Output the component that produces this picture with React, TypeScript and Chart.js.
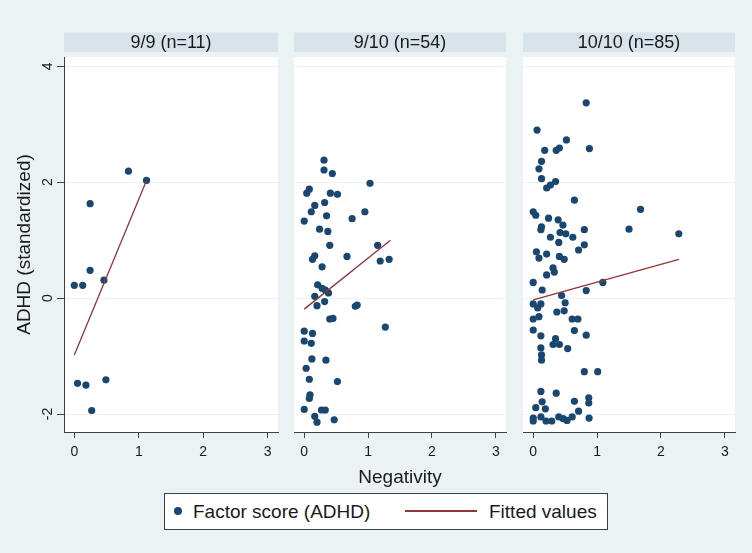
import React, { useEffect, useRef } from "react";
import { Chart, registerables } from "chart.js";
Chart.register(...registerables);

const FONT = "'Liberation Sans', Arial, Helvetica, sans-serif";
const BG = "#eaf2f3";
const STRIP = "#d8e4ea";
const NAVY = "#1a476f";
const MAROON = "#90353b";
const AXIS = "#404040";
const TEXT = "#1a1a1a";

const panelTitles = ["9/9 (n=11)", "9/10 (n=54)", "10/10 (n=85)"];
const xTicks = [0, 1, 2, 3];
const yTicks = [-2, 0, 2, 4];
const xTitle = "Negativity";
const yTitle = "ADHD (standardized)";
const legendLabels = ["Factor score (ADHD)", "Fitted values"];

// Panel 1: 9/9
const p1X = [0.84, 1.12, 0.245, 0.245, 0.0, 0.13, 0.46, 0.05, 0.18, 0.49, 0.27];
const p1Y = [2.19, 2.03, 1.63, 0.48, 0.22, 0.22, 0.31, -1.47, -1.5, -1.41, -1.94];
const fit1X = [0, 1.12];
const fit1Y = [-0.98, 2.03];

// Panel 2: 9/10
const p2X = [
  0.31, 0.31, 0.44, 1.03, 0.08, 0.04, 0.41, 0.52, 0.32, 0.165,
  0.11, 0.95, 0.35, 0.0, 0.75, 0.24, 0.37, 0.4, 1.15, 0.165,
  0.13, 0.67, 1.19, 1.33, 0.28, 0.21, 0.28, 0.33, 0.38, 0.165,
  0.32, 0.2, 0.8, 0.83, 0.4, 0.45, 1.27, 0.0, 0.13, 0.0,
  0.11, 0.12, 0.34, 0.03, 0.08, 0.52, 0.09, 0.08, 0.0, 0.27,
  0.33, 0.165, 0.2, 0.47,
];
const p2Y = [
  2.38, 2.21, 2.15, 1.98, 1.88, 1.81, 1.81, 1.79, 1.65, 1.6,
  1.49, 1.49, 1.42, 1.33, 1.37, 1.19, 1.15, 0.91, 0.91, 0.73,
  0.67, 0.72, 0.64, 0.67, 0.54, 0.23, 0.17, 0.14, 0.09, 0.03,
  -0.06, -0.13, -0.14, -0.12, -0.36, -0.35, -0.5, -0.57, -0.61, -0.74,
  -0.78, -1.05, -1.07, -1.21, -1.4, -1.44, -1.67, -1.73, -1.92, -1.93,
  -1.93, -2.04, -2.14, -2.1,
];
const fit2X = [0, 1.35];
const fit2Y = [-0.19, 1.0];

// Panel 3: 10/10
const p3X = [
  0.83, 0.06, 0.52, 0.18, 0.36, 0.41, 0.88, 0.13, 0.09, 0.13,
  0.21, 0.27, 0.35, 0.645, 1.68, 0.0, 0.04, 0.24, 0.39, 0.465,
  0.13, 0.12, 1.5, 0.8, 2.28, 0.42, 0.51, 0.27, 0.62, 0.4,
  0.8, 0.71, 0.05, 0.09, 0.21, 0.41, 0.485, 0.31, 0.33, 0.21,
  0.0, 1.09, 0.14, 0.83, 0.445, 0.5, 0.0, 0.12, 0.07, 0.09,
  0.0, 0.37, 0.485, 0.61, 0.7, 0.0, 0.645, 0.12, 0.83, 0.35,
  0.31, 0.41, 0.54, 0.12, 0.13, 0.13, 0.8, 1.01, 0.12, 0.36,
  0.14, 0.645, 0.87, 0.87, 0.04, 0.19, 0.71, 0.0, 0.0, 0.12,
  0.2, 0.29, 0.4, 0.47, 0.53, 0.61, 0.875,
];
const p3Y = [
  3.37, 2.9, 2.73, 2.55, 2.55, 2.59, 2.58, 2.36, 2.23, 2.06,
  1.9, 1.95, 2.01, 1.69, 1.53, 1.49, 1.43, 1.38, 1.35, 1.26,
  1.23, 1.18, 1.19, 1.18, 1.11, 1.13, 1.11, 1.05, 1.05, 0.96,
  0.92, 0.83, 0.8, 0.69, 0.76, 0.72, 0.67, 0.52, 0.45, 0.4,
  0.27, 0.27, 0.14, 0.13, 0.045, -0.08, -0.1, -0.1, -0.17, -0.32,
  -0.36, -0.24, -0.22, -0.36, -0.36, -0.55, -0.56, -0.65, -0.64, -0.7,
  -0.8, -0.8, -0.87, -0.86, -0.98, -1.07, -1.27, -1.27, -1.61, -1.64,
  -1.79, -1.78, -1.72, -1.81, -1.89, -1.91, -1.95, -2.07, -2.12, -2.05,
  -2.12, -2.12, -2.05, -2.08, -2.11, -2.05, -2.07,
];
const fit3X = [0, 2.28];
const fit3Y = [-0.03, 0.67];

const panels = [
  { title: panelTitles[0], xs: p1X, ys: p1Y, fx: fit1X, fy: fit1Y },
  { title: panelTitles[1], xs: p2X, ys: p2Y, fx: fit2X, fy: fit2Y },
  { title: panelTitles[2], xs: p3X, ys: p3Y, fx: fit3X, fy: fit3Y },
];

// layout (pixels)
const CANVAS_H = 553;
const layouts = [
  { left: 0, width: 282, padL: 0, padR: 2, yW: 64, first: true },
  { left: 290, width: 220, padL: 2, padR: 2, yW: 0, first: false },
  { left: 519, width: 220, padL: 2, padR: 2, yW: 0, first: false },
];

const decorPlugin = {
  id: "panelDecor",
  beforeDraw(chart: any, _args: any, opts: any) {
    const { ctx, chartArea: a } = chart;
    ctx.save();
    ctx.fillStyle = "#ffffff";
    ctx.fillRect(a.left, a.top, a.right - a.left, a.bottom - a.top);
    ctx.fillStyle = STRIP;
    ctx.fillRect(a.left, a.top - 24.5, a.right - a.left, 19.5);
    ctx.fillStyle = TEXT;
    ctx.font = `18px ${FONT}`;
    ctx.textAlign = "center";
    ctx.textBaseline = "middle";
    ctx.fillText(opts.title, (a.left + a.right) / 2, a.top - 14.3);
    ctx.restore();
  },
};

function Panel({ idx }: { idx: number }) {
  const ref = useRef<HTMLCanvasElement | null>(null);
  const p = panels[idx];
  const L = layouts[idx];
  useEffect(() => {
    if (!ref.current) return;
    Chart.defaults.font.family = FONT;
    const chart = new Chart(ref.current, {
      type: "scatter",
      data: {
        datasets: [
          {
            type: "line",
            label: legendLabels[1],
            data: p.fx.map((x, i) => ({ x, y: p.fy[i] })),
            borderColor: MAROON,
            borderWidth: 1.3,
            pointRadius: 0,
            fill: false,
            order: 0,
          } as any,
          {
            type: "scatter",
            label: legendLabels[0],
            data: p.xs.map((x, i) => ({ x, y: p.ys[i] })),
            backgroundColor: NAVY,
            borderColor: NAVY,
            borderWidth: 0,
            pointRadius: 3.6,
            order: 1,
          },
        ],
      },
      plugins: [decorPlugin],
      options: {
        animation: false,
        responsive: false,
        maintainAspectRatio: false,
        events: [],
        layout: { padding: { left: L.padL, right: L.padR, top: 57, bottom: 62 } },
        plugins: {
          legend: { display: false },
          tooltip: { enabled: false },
          panelDecor: { title: p.title },
        } as any,
        scales: {
          x: {
            type: "linear",
            min: -0.16,
            max: 3.16,
            afterBuildTicks: (s: any) => {
              s.ticks = xTicks.map((v) => ({ value: v }));
            },
            afterFit: (s: any) => {
              s.height = 59;
            },
            ticks: {
              font: { size: 14 },
              color: TEXT,
              padding: 6,
              maxRotation: 0,
              autoSkip: false,
            },
            grid: {
              display: true,
              drawOnChartArea: false,
              drawTicks: true,
              tickLength: 6,
              tickColor: AXIS,
            },
            border: { display: true, color: AXIS, width: 1 },
            title: {
              display: idx === 1,
              text: xTitle,
              font: { size: 19 },
              color: TEXT,
              padding: { top: 0, bottom: 2 },
            },
          },
          y: {
            type: "linear",
            min: -2.31,
            max: 4.16,
            afterBuildTicks: (s: any) => {
              s.ticks = yTicks.map((v) => ({ value: v }));
            },
            afterFit: (s: any) => {
              s.width = L.yW;
            },
            ticks: {
              display: L.first,
              font: { size: 14 },
              color: TEXT,
              padding: 3,
              minRotation: 90,
              maxRotation: 90,
              crossAlign: "center",
              autoSkip: false,
            },
            grid: {
              display: true,
              drawOnChartArea: true,
              color: BG,
              lineWidth: 1,
              drawTicks: L.first,
              tickLength: L.first ? 7 : 0,
              tickColor: AXIS,
            },
            border: { display: L.first, color: AXIS, width: 1 },
            title: {
              display: L.first,
              text: yTitle,
              font: { size: 19 },
              color: TEXT,
              padding: { top: 13, bottom: 0 },
            },
          },
        },
      } as any,
    });
    return () => chart.destroy();
  }, []);
  return (
    <canvas
      ref={ref}
      width={L.width}
      height={CANVAS_H}
      style={{ position: "absolute", left: L.left, top: 0, width: L.width, height: CANVAS_H }}
    />
  );
}

export default function App() {
  return (
    <div
      style={{
        position: "absolute",
        left: 0,
        top: 0,
        width: 752,
        height: 553,
        background: BG,
        overflow: "hidden",
        fontFamily: FONT,
      }}
    >
      <Panel idx={0} />
      <Panel idx={1} />
      <Panel idx={2} />
      <div
        style={{
          position: "absolute",
          left: 164,
          top: 493,
          width: 444,
          height: 37,
          boxSizing: "border-box",
          border: `1px solid ${AXIS}`,
          background: "#ffffff",
          fontSize: 19,
          color: TEXT,
          zIndex: 2,
        }}
      >
        <span
          style={{
            position: "absolute",
            left: 8.5,
            top: 13,
            width: 8,
            height: 8,
            borderRadius: "50%",
            background: NAVY,
          }}
        />
        <span style={{ position: "absolute", left: 28, top: 0, lineHeight: "35px", whiteSpace: "nowrap" }}>
          {legendLabels[0]}
        </span>
        <span
          style={{
            position: "absolute",
            left: 240,
            top: 16.3,
            width: 72,
            height: 1.5,
            background: MAROON,
          }}
        />
        <span style={{ position: "absolute", left: 324, top: 0, lineHeight: "35px", whiteSpace: "nowrap" }}>
          {legendLabels[1]}
        </span>
      </div>
    </div>
  );
}
